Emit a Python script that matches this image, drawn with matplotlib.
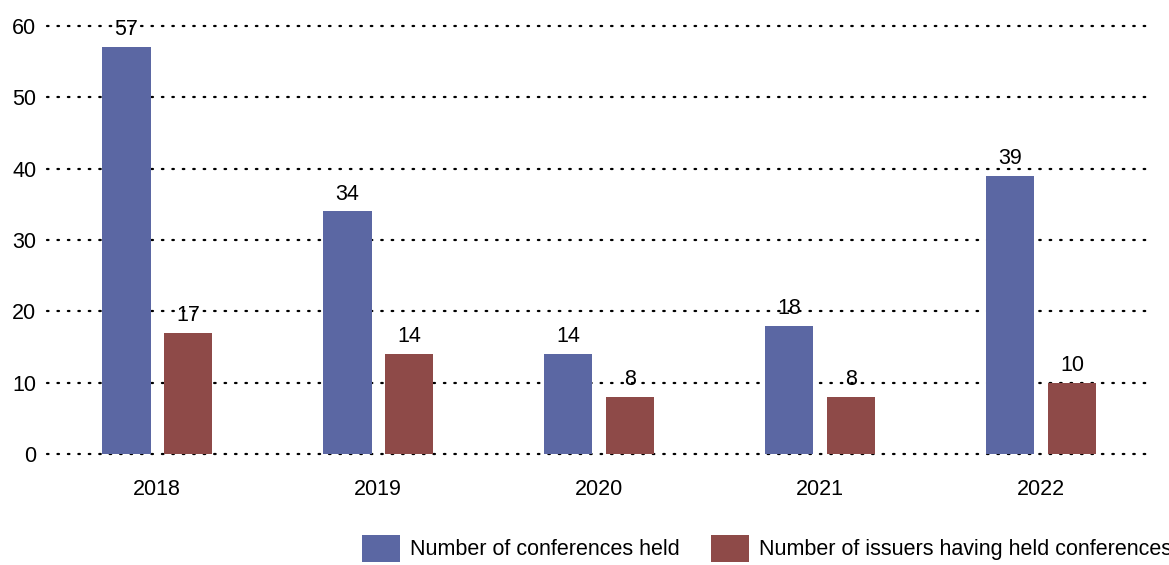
import numpy as np
import matplotlib
matplotlib.use('Agg')
import matplotlib.pyplot as plt

years = ['2018', '2019', '2020', '2021', '2022']
conferences = [57, 34, 14, 18, 39]  # Number of conferences held
issuers = [17, 14, 8, 8, 10]  # Number of issuers having held conferences

plt.rcParams['font.family'] = ['Liberation Sans', 'DejaVu Sans']
fs = 15.5

fig = plt.figure(figsize=(11.69, 5.65), dpi=100)
ax = fig.add_axes([0.040, 0.1965, 0.945, 0.7575])

x = np.arange(len(years))
w = 0.22
b1 = ax.bar(x - 0.14, conferences, w, color='#5B67A3', label='Number of conferences held', zorder=3)
b2 = ax.bar(x + 0.14, issuers, w, color='#8E4A48', label='Number of issuers having held conferences', zorder=3)

for bars in (b1, b2):
    for bar in bars:
        ax.annotate(f'{int(bar.get_height())}', (bar.get_x() + bar.get_width() / 2, bar.get_height()),
                    xytext=(0, 5), textcoords='offset points', ha='center', va='bottom', fontsize=fs)

ax.set_xlim(-0.5, 4.5)
ax.set_ylim(0, 60)
ax.set_yticks(range(0, 61, 10))
ax.set_xticks(x)
ax.set_xticklabels(years)
ax.tick_params(axis='both', length=0, labelsize=fs)
ax.tick_params(axis='x', pad=18)
ax.tick_params(axis='y', pad=7.5)
ax.yaxis.grid(True, color='black', linewidth=1.6, linestyle=(0, (0.7, 4)), dash_capstyle='round', zorder=0)
for gl in ax.get_ygridlines():
    gl.set_clip_on(False)
ax.set_axisbelow(True)
for s in ax.spines.values():
    s.set_visible(False)

fig.legend(loc='center left', bbox_to_anchor=(0.302, 0.03), ncol=2, frameon=False, fontsize=fs,
           handlelength=1.77, handleheight=1.55, handletextpad=0.47, columnspacing=1.45, borderaxespad=0)

fig.savefig('out.png', dpi=100)
